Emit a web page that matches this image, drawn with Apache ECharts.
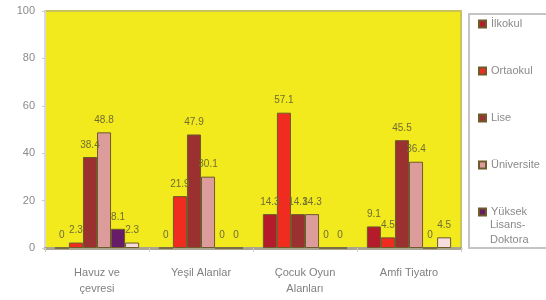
<!DOCTYPE html>
<html>
<head>
<meta charset="utf-8">
<script src="https://cdn.jsdelivr.net/npm/echarts@6/dist/echarts.min.js"></script>
<style>
  html, body { margin: 0; padding: 0; background: #fff; }
  #chart { width: 546px; height: 300px; }
</style>
</head>
<body>
<div id="chart"></div>
<script>
  var categories = ['Havuz ve\nçevresi', 'Yeşil Alanlar', 'Çocuk Oyun\nAlanları', 'Amfi Tiyatro'];
  var seriesNames = ['İlkokul', 'Ortaokul', 'Lise', 'Üniversite', 'Yüksek Lisans-Doktora', 'Diğer'];
  var ilkokul = [0, 0, 14.3, 9.1];
  var ortaokul = [2.3, 21.9, 57.1, 4.5];
  var lise = [38.4, 47.9, 14.3, 45.5];
  var universite = [48.8, 30.1, 14.3, 36.4];
  var yuksekLisans = [8.1, 0, 0, 0];
  var diger = [2.3, 0, 0, 4.5];
  var yTicks = [0, 20, 40, 60, 80, 100];

  var values = [ilkokul, ortaokul, lise, universite, yuksekLisans, diger];
  var colors = ['#b41c2c', '#f02c20', '#9a3030', '#dc9c9c', '#661c66', '#f6dcdc'];

  var chart = echarts.init(document.getElementById('chart'));

  var series = seriesNames.map(function (name, i) {
    return {
      name: name,
      type: 'bar',
      barGap: '0%',
      barCategoryGap: '19%',
      data: values[i],
      itemStyle: { color: colors[i], borderColor: '#6e5a2a', borderWidth: 1 },
      label: {
        show: true,
        position: 'top',
        distance: 7,
        fontSize: 10,
        fontFamily: 'Liberation Sans',
        color: '#6f6c36',
        formatter: function (p) { return String(p.value); }
      }
    };
  });

  var legendText = { fontSize: 11, lineHeight: 12, color: '#8a8a8a', fontFamily: 'Liberation Sans' };

  chart.setOption({
    animation: false,
    color: colors,
    grid: {
      left: 45, right: 85, top: 11, bottom: 52,
      show: true,
      backgroundColor: '#f2ea1c',
      borderColor: '#c9c35c',
      borderWidth: 2
    },
    legend: {
      data: seriesNames.slice(0, 5),
      orient: 'vertical',
      left: 473, top: 13,
      itemWidth: 7, itemHeight: 7,
      itemGap: 35,
      icon: 'rect',
      formatter: function (name) { return name === 'Yüksek Lisans-Doktora' ? 'Yüksek' : name; },
      textStyle: legendText
    },
    graphic: [{
      type: 'rect',
      shape: { x: 469, y: 14, width: 90, height: 234 },
      style: { fill: 'none', stroke: '#c4c4c4', lineWidth: 2 },
      z: -1
    }, {
      type: 'text',
      left: 490, top: 217,
      style: { text: 'Lisans-\nDoktora', fontSize: 11, lineHeight: 15, fill: '#8a8a8a', fontFamily: 'Liberation Sans' }
    }],
    xAxis: {
      type: 'category',
      data: categories,
      axisLine: { lineStyle: { color: '#a8a690', width: 3 } },
      axisTick: { show: true, length: 4, lineStyle: { color: '#cccccc' } },
      axisLabel: { fontSize: 11, color: '#808080', margin: 17, lineHeight: 16, fontFamily: 'Liberation Sans' }
    },
    yAxis: {
      type: 'value',
      min: yTicks[0],
      max: yTicks[yTicks.length - 1],
      interval: 20,
      axisLine: { show: true, lineStyle: { color: '#d8d8e0', width: 2 } },
      axisTick: { show: true, length: 3, lineStyle: { color: '#cccccc' } },
      splitLine: { show: false },
      axisLabel: { fontSize: 11, color: '#8a8a8a', margin: 10, fontFamily: 'Liberation Sans' }
    },
    series: series
  });
</script>
</body>
</html>
